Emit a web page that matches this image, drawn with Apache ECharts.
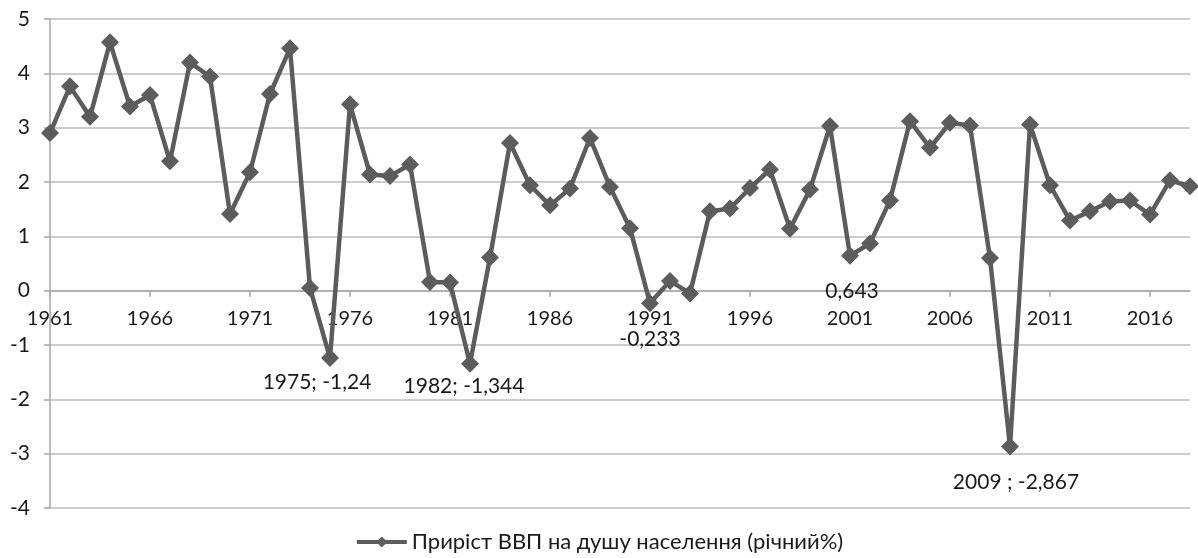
<!DOCTYPE html>
<html>
<head>
<meta charset="utf-8">
<script src="https://cdn.jsdelivr.net/npm/echarts@6/dist/echarts.min.js"></script>
<style>
html,body{margin:0;padding:0;background:#fff;}
#chart{width:1198px;height:558px;}
</style>
</head>
<body>
<div id="chart"></div>
<script>
var years=[];
for(var y=1961;y<=2018;y++){years.push(String(y));}

var growth=[2.90,3.76,3.20,4.57,3.39,3.60,2.38,4.20,3.94,1.41,
            2.18,3.62,4.46,0.05,-1.24,3.43,2.14,2.11,2.32,0.16,
            0.15,-1.344,0.61,2.72,1.94,1.57,1.88,2.81,1.91,1.15,
            -0.233,0.18,-0.05,1.46,1.51,1.89,2.23,1.14,1.86,3.03,
            0.643,0.87,1.66,3.12,2.63,3.09,3.04,0.60,-2.867,3.06,
            1.94,1.29,1.46,1.64,1.66,1.40,2.03,1.92];

var seriesName='Приріст ВВП на душу населення (річний%)';

// підписи окремих точок
var noteYears=['1975','1982','1991','2001','2009'];
var noteTexts=['1975; -1,24','1982; -1,344','-0,233','0,643','2009 ; -2,867'];
var noteOffsets=[[-13,0],[-6,-2],[0,11],[2,11],[6,11]];

var chartData=growth.map(function(v,i){
    var k=noteYears.indexOf(years[i]);
    if(k<0){return v;}
    return {
        value:v,
        label:{
            show:true,
            position:'bottom',
            offset:noteOffsets[k],
            formatter:noteTexts[k]
        }
    };
});

var yMin=-4,yMax=5;
var gridTop=19,gridBottom=50,chartH=558;
// вісь X проходить через нуль
var zeroShift=(chartH-gridTop-gridBottom)*(0-yMin)/(yMax-yMin);

var myChart=echarts.init(document.getElementById('chart'));
var fontFam='Lato, "Open Sans", sans-serif';
var option={
    animation:false,
    grid:{left:50,right:8,top:gridTop,bottom:gridBottom},
    legend:{
        data:[seriesName],
        top:529,
        left:'center',
        padding:[2,5,2,5],
        itemWidth:50,
        itemHeight:14,
        lineStyle:{width:4},
        textStyle:{fontSize:22,color:'#1a1a1a',fontFamily:fontFam}
    },
    xAxis:{
        type:'category',
        data:years,
        boundaryGap:false,
        position:'bottom',
        offset:-zeroShift,
        axisLine:{onZero:false,lineStyle:{color:'#a6a6a6',width:1.5}},
        axisTick:{show:true,interval:4,length:6,lineStyle:{color:'#a6a6a6',width:1.5}},
        axisLabel:{interval:4,margin:18,fontSize:20,color:'#1a1a1a',fontFamily:fontFam},
        splitLine:{show:false}
    },
    yAxis:{
        type:'value',
        min:yMin,
        max:yMax,
        interval:1,
        axisLine:{show:true,lineStyle:{color:'#a6a6a6',width:1.5}},
        axisTick:{show:true,length:6,lineStyle:{color:'#a6a6a6',width:1.5}},
        axisLabel:{margin:20,fontSize:21,color:'#1a1a1a',fontFamily:fontFam},
        splitLine:{lineStyle:{color:'#bcbcbc',width:1.5}}
    },
    series:[{
        name:seriesName,
        type:'line',
        data:chartData,
        symbol:'diamond',
        symbolSize:18,
        showAllSymbol:true,
        lineStyle:{color:'#5c5c5c',width:4.5},
        itemStyle:{color:'#5c5c5c'},
        label:{show:false,fontSize:21,color:'#1a1a1a',fontFamily:fontFam}
    }]
};
myChart.setOption(option);
</script>
</body>
</html>
